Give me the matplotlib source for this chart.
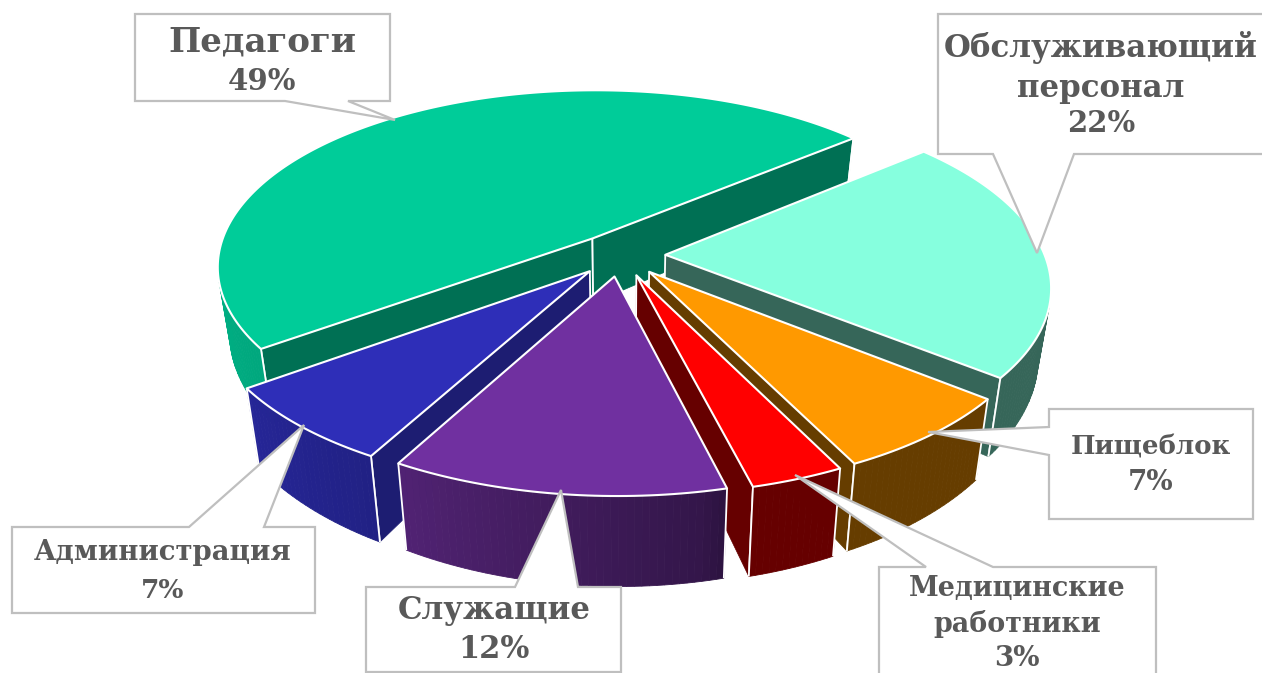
import numpy as np
from matplotlib import pyplot as plt
from matplotlib.colors import to_rgb
from matplotlib.patches import Polygon

labels = ["Обслуживающий\nперсонал", "Пищеблок", "Медицинские\nработники", "Служащие", "Администрация", "Педагоги"]
values = [21.7, 6.95, 3.35, 12, 7, 49]
colors = ["#86FFDE", "#FF9900", "#FF0000", "#7030A0", "#2E2EB8", "#00CC99"]
wall_shade = [0.4, 0.4, 0.4, 0.4, 0.62, 0.55]

# camera, all in pixels of the 1262x673 picture
cx, cy = 620, 255
S, k, t = 377, 0.16, 0.469
D, m = 66, 0.03
shear, roll = 13, 5
explode = 0.12
start = 52

fig = plt.figure(figsize=(12.62, 6.73), dpi=100)
ax = fig.add_axes([0, 0, 1, 1])
ax.set_xlim(0, 1262)
ax.set_ylim(673, 0)
ax.axis("off")


def project(x, y, z):
    w = 1 + k * y
    return (cx + S * x / (w + m * z) - shear * y, cy - S * t * y / w + D * z / w**1.6 - roll * x)


def shade(theta):
    # walls get darker towards the right
    return np.interp(theta % 360, [90, 167, 170, 210, 235, 270], [0.4, 0.4, 0.46, 0.72, 0.82, 0.87])


def visible(a, b, c, d):
    pts = np.array([a, b, c, d])
    x, y = pts[:, 0], pts[:, 1]
    return np.sum(x * np.roll(y, -1) - np.roll(x, -1) * y) < 0


def white_line(a, b, lw=1.3):
    ax.add_patch(Polygon([a, b], closed=False, fill=False, ec="white", lw=lw))


def draw_slice(th0, th1, color, wall):
    mid = np.radians((th0 + th1) / 2)
    ox, oy = explode * np.sin(mid), explode * np.cos(mid)
    base = np.array(to_rgb(color))
    angles = np.radians(np.linspace(th0, th1, int(th1 - th0) + 2))
    rim = [(ox + np.sin(a), oy + np.cos(a)) for a in angles]
    top_apex = project(ox, oy, 0)
    low_apex = project(ox, oy, 1)
    top_rim = [project(x, y, 0) for x, y in rim]
    low_rim = [project(x, y, 1) for x, y in rim]

    # straight walls
    dark = base * wall
    for a, b, c, d in [
        (top_apex, top_rim[0], low_rim[0], low_apex),
        (top_rim[-1], top_apex, low_apex, low_rim[-1]),
    ]:
        if visible(a, b, c, d):
            ax.add_patch(Polygon([a, b, c, d], fc=dark, ec=dark, lw=0.5))
            white_line(a, d)
            white_line(b, c)

    # curved wall, cut in small steps for the gradient
    for i in range(len(rim) - 1):
        a, b, c, d = top_rim[i], top_rim[i + 1], low_rim[i + 1], low_rim[i]
        if visible(a, b, c, d):
            f = shade(np.degrees(angles[i]))
            ax.add_patch(Polygon([a, b, c, d], fc=base * f, ec=base * f, lw=0.6))

    # redo the corner lines the curved wall painted over
    for i in (0, len(rim) - 1):
        if visible(top_rim[0], top_rim[1], low_rim[1], low_rim[0]) or visible(top_rim[-2], top_rim[-1], low_rim[-1], low_rim[-2]):
            white_line(top_rim[i], low_rim[i])

    ax.add_patch(Polygon([top_apex] + top_rim, fc=color, ec="white", lw=1.5, joinstyle="round"))


edges = start + np.cumsum([0] + values) * 3.6
order = sorted(range(len(values)), key=lambda i: -np.cos(np.radians(edges[i] + edges[i + 1]) / 2))
for i in order:
    draw_slice(edges[i], edges[i + 1], colors[i], wall_shade[i])

# callout outlines: box corners with the pointer folded in
callouts = [
    [(135, 14), (390, 14), (390, 101), (348, 101), (395, 120), (285, 101), (135, 101)],
    [(938, 14), (1290, 14), (1290, 154), (1074, 154), (1037, 253), (993, 154), (938, 154)],
    [(1049, 409), (1253, 409), (1253, 519), (1049, 519), (1049, 455), (928, 432), (1049, 427)],
    [(879, 567), (926, 567), (795, 475), (993, 567), (1156, 567), (1156, 700), (879, 700)],
    [(12, 527), (189, 527), (304, 425), (264, 527), (315, 527), (315, 613), (12, 613)],
    [(366, 587), (515, 587), (561, 490), (578, 587), (621, 587), (621, 672), (366, 672)],
]
for shape in callouts:
    ax.add_patch(Polygon(shape, fc="white", ec="#BFBFBF", lw=1.6, joinstyle="miter"))

pct = [f"{round(v)}%" for v in values]
texts = [
    ("Обслуживающий", 1101, 47, 22.2), ("персонал", 1101, 88, 22.2), (pct[0], 1101, 124, 21),
    (labels[1], 1151, 447, 18.7), (pct[1], 1151, 483, 20),
    ("Медицинские", 1017, 588, 19.4), ("работники", 1017, 624, 19.4), (pct[2], 1017, 658, 20),
    (labels[3], 494, 611, 22.2), (pct[3], 494, 650, 22),
    (labels[4], 163, 553, 19.8), (pct[4], 163, 590, 19),
    (labels[5], 262, 42, 24.6), (pct[5], 262, 82, 21),
]
for s, x, y, size in texts:
    ax.text(x, y, s, ha="center", va="center", fontsize=size, fontweight="bold",
            family="DejaVu Serif", color="#595959")

fig.savefig("out.png", dpi=100)
